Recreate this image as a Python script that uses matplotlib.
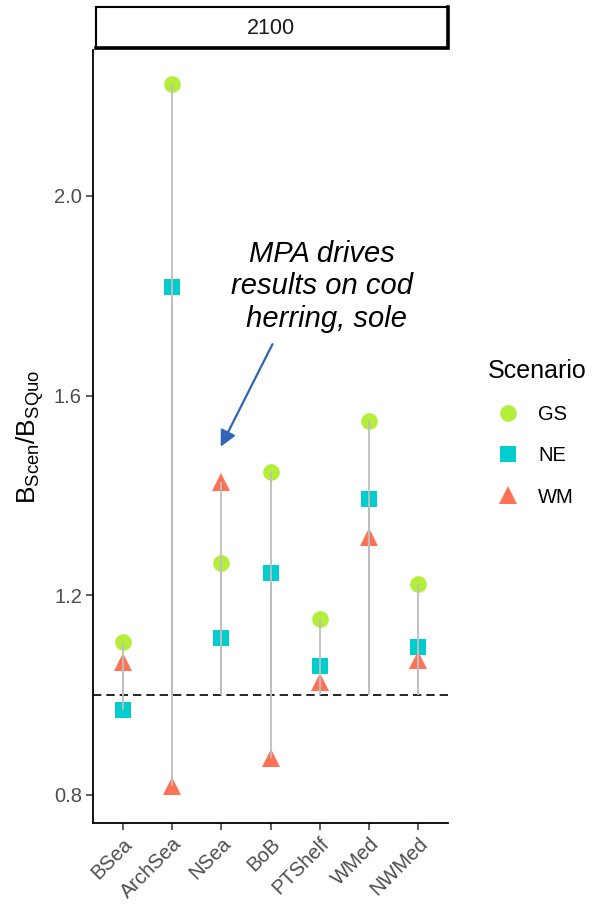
import matplotlib
matplotlib.use("Agg")
import matplotlib.pyplot as plt
import matplotlib.transforms as mtransforms
from matplotlib.lines import Line2D
from matplotlib.patches import Rectangle
import numpy as np

plt.rcParams['font.family'] = ['Liberation Sans', 'DejaVu Sans']
plt.rcParams['mathtext.fontset'] = 'custom'
plt.rcParams['mathtext.rm'] = 'Liberation Sans'
plt.rcParams['mathtext.it'] = 'Liberation Sans:italic'

# values (ratio to status quo, year 2100)
regions = ['BSea', 'ArchSea', 'NSea', 'BoB', 'PTShelf', 'WMed', 'NWMed']
gs = [1.107, 2.225, 1.265, 1.446, 1.153, 1.550, 1.223]
ne = [0.970, 1.817, 1.115, 1.245, 1.058, 1.392, 1.096]
wm = [1.066, 0.817, 1.427, 0.874, 1.026, 1.317, 1.070]
y_ticks = [0.8, 1.2, 1.6, 2.0]

colors = {'GS': '#B3EE3A', 'NE': '#00CDCD', 'WM': '#FF7256'}
markers = {'GS': ('o', 12), 'NE': ('s', 11.5), 'WM': ('^', 13.5)}
series = {'GS': gs, 'NE': ne, 'WM': wm}

fig = plt.figure(figsize=(5.92, 9.06), dpi=100)
ax = fig.add_axes([93 / 592, 1 - 823 / 906, 355 / 592, 773 / 906])

x = np.arange(1, len(regions) + 1)

for name, vals in series.items():
    m, ms = markers[name]
    ax.plot(x, vals, linestyle='none', marker=m, ms=ms, color=colors[name],
            markeredgewidth=0, zorder=3, label=name)
    # grey stalk from the reference line to each point, drawn over the markers
    ax.vlines(x, 1.0, vals, color='#BEBEBE', lw=1.3, zorder=4)

ax.axhline(1.0, color='black', lw=1.2, dashes=(5, 3), zorder=2)

ax.set_xlim(0.4, 7.6)
ax.set_ylim(0.7435, 2.2925)
ax.set_xticks(x)
ax.set_xticklabels(regions, rotation=45, ha='right', va='top',
                   rotation_mode='anchor', fontsize=14.5, color='#4D4D4D')
shift = mtransforms.ScaledTranslation(0.07, 0, fig.dpi_scale_trans)
for lab in ax.get_xticklabels():
    lab.set_transform(lab.get_transform() + shift)
ax.set_yticks(y_ticks)
ax.set_yticklabels(['%.1f' % t for t in y_ticks], fontsize=14.5, color='#4D4D4D')
ax.tick_params(axis='both', length=5, width=1.1, color='#333333', pad=3)

for s in ['top', 'right']:
    ax.spines[s].set_visible(False)
for s in ['left', 'bottom']:
    ax.spines[s].set_linewidth(1.3)

ax.set_ylabel(r'$\mathregular{B_{Scen}/B_{SQuo}}$', fontsize=19)
ax.yaxis.set_label_coords(-0.133, 0.5)

# facet strip
strip = Rectangle((0.0085, 1.002), 0.9915, 0.053, transform=ax.transAxes,
                  facecolor='white', edgecolor='black', lw=1.5, clip_on=False)
ax.add_patch(strip)
ax.plot([1.0, 1.0, 0.0085], [1.0556, 1.002, 1.002], transform=ax.transAxes,
        color='black', lw=2.6, clip_on=False, solid_joinstyle='miter')
ax.text(0.5, 1.028, '2100', transform=ax.transAxes, ha='center', va='center',
        fontsize=15.5, color='#1A1A1A')

# annotation
ax.text(5.05, 1.819, 'MPA drives\nresults on cod\n herring, sole', ha='center',
        va='center', fontsize=21, style='italic', linespacing=1.2)
ax.annotate('', xy=(2.99, 1.4975), xytext=(4.04, 1.703),
            arrowprops=dict(arrowstyle='-|>', color='#2F64B9', lw=1.6,
                            mutation_scale=24, shrinkA=0, shrinkB=0))

handles = [Line2D([], [], linestyle='none', marker=markers[n][0], ms=markers[n][1],
                  color=colors[n], markeredgewidth=0) for n in series]
leg = fig.legend(handles, list(series), title='Scenario', loc='upper left',
                 bbox_to_anchor=(480 / 592, 1 - 351 / 906), frameon=False,
                 fontsize=14.5, title_fontsize=18, labelspacing=1.1,
                 handletextpad=0.5, borderaxespad=0)
leg._legend_box.align = 'left'

fig.savefig('out.png', dpi=100)
